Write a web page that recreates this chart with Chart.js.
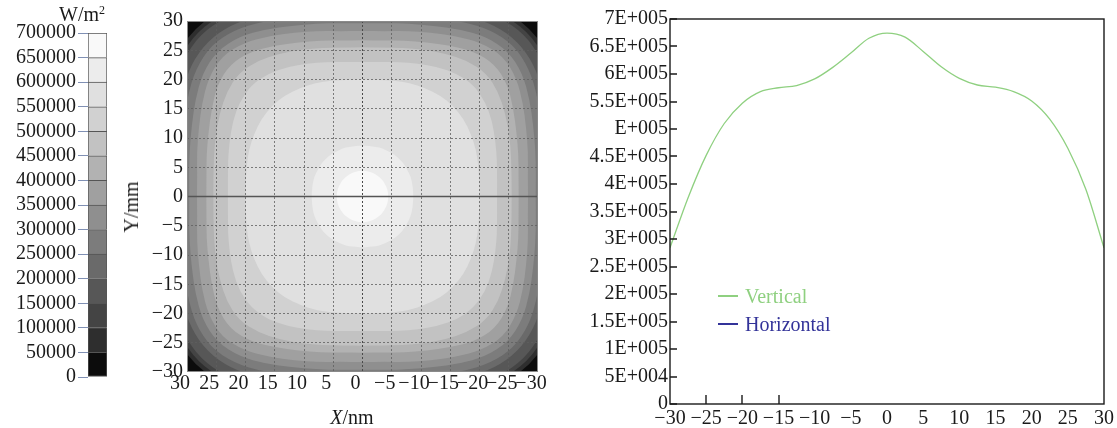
<!DOCTYPE html>
<html><head><meta charset="utf-8">
<script src="https://cdn.jsdelivr.net/npm/chart.js@4.4.1/dist/chart.umd.min.js"></script>
<style>
html,body{margin:0;padding:0;background:#fff;width:1117px;height:428px;overflow:hidden;position:relative;}
canvas{position:absolute;top:0;}
.txt{position:absolute;font-family:'Liberation Serif','Times New Roman',serif;color:#1a1a1a;font-size:20px;white-space:nowrap;line-height:1;transform:translate(-50%,-50%);}
</style></head><body>
<canvas id="cbar" width="112" height="428" style="left:0px"></canvas>
<canvas id="heat" width="448" height="428" style="left:112px"></canvas>
<canvas id="prof" width="557" height="428" style="left:560px"></canvas>
<div class="txt" style="left:82px;top:14px">W/m<span style="font-size:12px;position:relative;top:-7px">2</span></div>
<div class="txt" style="left:352px;top:417px"><i>X</i>/nm</div>
<div class="txt" style="left:131px;top:207px;transform:translate(-50%,-50%) rotate(-90deg)">Y/mm</div>
<div id="legend" style="position:absolute;left:718px;top:0px;font-family:'Liberation Serif','Times New Roman',serif;font-size:20px;"></div>
<script>
// ---------- data ----------
const bandSize = 50000;
const bandColors = ['#0c0c0c','#2e2e2e','#444444','#575757','#6a6a6a','#7c7c7c','#8f8f8f',
                    '#a0a0a0','#b2b2b2','#c2c2c2','#d1d1d1','#e0e0e0','#ececec','#f9f9f9'];
const contourLevels = [50000,100000,150000,200000,250000,300000,350000,400000,450000,500000,550000,600000,650000];
const contourAngles = [0,7.5,15,22.5,30,37.5,45];
const contourRadii = [
  [35.0,35.3,36.1,37.4,38.9,40.1,40.6],
  [34.0,34.3,35.1,36.4,38.0,39.3,39.9],
  [33.0,33.3,34.1,35.5,37.1,38.6,39.2],
  [32.0,32.3,33.1,34.2,35.6,37.0,37.5],
  [30.9,31.2,32.0,33.0,34.5,35.9,36.6],
  [29.6,29.9,30.6,31.6,33.0,34.5,35.2],
  [28.3,28.5,29.3,30.3,31.7,33.2,34.0],
  [26.7,26.9,27.6,28.5,29.8,31.3,32.0],
  [25.5,25.7,26.3,27.2,28.2,29.3,29.9],
  [23.0,23.2,23.8,24.6,25.6,26.5,26.9],
  [20.0,20.1,20.5,21.0,21.4,21.8,21.9],
  [8.7,8.7,8.8,8.9,8.9,9.0,9.0],
  [4.4,4.4,4.4,4.4,4.4,4.4,4.4]
];
const cutLineX = [-30, 30];
const cutLineY = 0;
const profileX = [-30,-27.5,-25,-22.5,-20,-17.5,-15,-12.5,-10,-7.5,-5,-2.5,0,2.5,5,7.5,10,12.5,15,17.5,20,22.5,25,27.5,30];
const verticalProfile = [284000,375000,452000,510000,547000,568000,575000,579000,591000,612000,638000,665000,674500,
                         667000,641000,613000,592000,580000,576000,568000,551000,518000,465000,390000,284000];
const horizontalProfile = [];
const profileYTickLabels = ['0','5E+004','1E+005','1.5E+005','2E+005','2.5E+005','3E+005','3.5E+005',
                            '4E+005','4.5E+005','E+005','5.5E+005','6E+005','6.5E+005','7E+005'];
const xInnerTicks = [-25,-20,-15];

// ---------- common ----------
const FONT = {family:"'Liberation Serif','Times New Roman',serif", size:20};
const TXT = '#1a1a1a';
const fmtMinus = v => v < 0 ? '\u2212' + Math.abs(v) : String(v);

// ---------- colorbar ----------
new Chart(document.getElementById('cbar'), {
  type:'bar',
  data:{labels:[''], datasets: bandColors.map((c,i)=>({
    data:[bandSize], backgroundColor:c, borderColor:'#555',
    borderWidth:{top:1,left:1,right:1,bottom:i===0?1:0}, borderSkipped:false,
    barPercentage:1, categoryPercentage:1
  }))},
  options:{responsive:false, animation:false, devicePixelRatio:1,
    layout:{padding:{left:0,right:5,top:33,bottom:51}},
    plugins:{legend:{display:false}, tooltip:{enabled:false}},
    scales:{
      x:{stacked:true, display:false},
      y:{stacked:true, min:0, max:700000,
         ticks:{stepSize:50000, callback:v => String(v), font:FONT, color:TXT, padding:2, autoSkip:false},
         grid:{drawOnChartArea:false, drawTicks:true, tickLength:10, color:'#8090b4'},
         border:{display:false},
         afterFit(s){ s.width = 88; }}
    }}
});

// ---------- heatmap ----------
const heatPlugin = {
  id:'heatContours',
  beforeDatasetsDraw(chart){
    const {ctx, chartArea:a, scales:{x, y}} = chart;
    ctx.save();
    ctx.beginPath(); ctx.rect(a.left, a.top, a.right-a.left, a.bottom-a.top); ctx.clip();
    ctx.fillStyle = bandColors[0];
    ctx.fillRect(a.left, a.top, a.right-a.left, a.bottom-a.top);
    const step = contourAngles[1];
    const perQuad = Math.round(90/step);
    const n = perQuad*4;
    contourLevels.forEach((lvl, i) => {
      const r = contourRadii[i];
      const pts = [];
      for (let k=0; k<n; k++){
        const q = k % perQuad;
        const idx = q <= perQuad/2 ? q : perQuad - q;
        const rad = k*step*Math.PI/180;
        pts.push([x.getPixelForValue(r[idx]*Math.cos(rad)), y.getPixelForValue(r[idx]*Math.sin(rad))]);
      }
      ctx.beginPath();
      const mid = (p,q) => [(p[0]+q[0])/2, (p[1]+q[1])/2];
      const m0 = mid(pts[n-1], pts[0]);
      ctx.moveTo(m0[0], m0[1]);
      for (let k=0; k<n; k++){
        const p = pts[k], m = mid(p, pts[(k+1)%n]);
        ctx.quadraticCurveTo(p[0], p[1], m[0], m[1]);
      }
      ctx.closePath();
      ctx.fillStyle = bandColors[i+1];
      ctx.fill();
    });
    ctx.restore();
  },
  afterDraw(chart){
    const {ctx, chartArea:a} = chart;
    ctx.save();
    ctx.strokeStyle = '#8a8a8a'; ctx.lineWidth = 1;
    ctx.strokeRect(a.left+0.5, a.top+0.5, a.right-a.left-1, a.bottom-a.top-1);
    ctx.restore();
  }
};
const heatGridColor = axis => ctx => {
  const v = ctx.tick.value;
  if (v === -30 || v === 30) return 'rgba(0,0,0,0)';
  if (v === 0) return axis === 'y' ? 'rgba(0,0,0,0)' : '#4a4a4a';
  return 'rgba(95,95,95,0.8)';
};
new Chart(document.getElementById('heat'), {
  type:'scatter',
  data:{datasets:[{label:'cut', data: cutLineX.map(v => ({x:v, y:cutLineY})), showLine:true,
                   borderColor:'#555', borderWidth:1.6, pointRadius:0}]},
  options:{responsive:false, animation:false, devicePixelRatio:1,
    layout:{padding:{top:21,right:22,bottom:0,left:0}},
    plugins:{legend:{display:false}, tooltip:{enabled:false}},
    scales:{
      x:{type:'linear', reverse:true, min:-30, max:30,
         ticks:{stepSize:5, callback:fmtMinus, font:FONT, color:TXT, padding:0, labelOffset:-7, maxRotation:0, autoSkip:false},
         grid:{z:1, color:heatGridColor('x'), drawTicks:false, lineWidth:1},
         border:{display:false, dash:[2,2]},
         afterFit(s){ s.height = 56; }},
      y:{type:'linear', min:-30, max:30,
         ticks:{stepSize:5, callback:fmtMinus, font:FONT, color:TXT, padding:4, autoSkip:false},
         grid:{z:1, color:heatGridColor('y'), drawTicks:false, lineWidth:1},
         border:{display:false, dash:[2,2]},
         afterFit(s){ s.width = 75; }}
    }},
  plugins:[heatPlugin]
});

// ---------- profile ----------
const framePlugin = {
  id:'frameTicks',
  afterDraw(chart){
    const {ctx, chartArea:a, scales:{x, y}} = chart;
    ctx.save();
    ctx.strokeStyle = '#1a1a1a'; ctx.lineWidth = 1.4;
    ctx.strokeRect(a.left, a.top, a.right-a.left, a.bottom-a.top);
    ctx.beginPath();
    y.ticks.forEach(t => { const py = Math.round(y.getPixelForValue(t.value)); ctx.moveTo(a.left, py); ctx.lineTo(a.left+7, py); });
    xInnerTicks.forEach(v => { const px = Math.round(x.getPixelForValue(v)); ctx.moveTo(px, a.bottom); ctx.lineTo(px, a.bottom-9); });
    ctx.stroke();
    ctx.restore();
  }
};
const profChart = new Chart(document.getElementById('prof'), {
  type:'line',
  data:{datasets:[
    {label:'Vertical', data: profileX.map((v,i)=>({x:v, y:verticalProfile[i]})), borderColor:'#8fd080', backgroundColor:'#8fd080',
     borderWidth:1.3, pointRadius:0, cubicInterpolationMode:'monotone', fill:false},
    {label:'Horizontal', data: horizontalProfile, borderColor:'#333399', backgroundColor:'#333399',
     borderWidth:1.3, pointRadius:0, fill:false}
  ]},
  options:{responsive:false, animation:false, devicePixelRatio:1,
    layout:{padding:{top:19,right:9,bottom:0,left:0}},
    plugins:{legend:{display:false}, tooltip:{enabled:false}},
    scales:{
      x:{type:'linear', min:-30, max:30,
         ticks:{stepSize:5, callback:fmtMinus, font:FONT, color:TXT, padding:3, maxRotation:0, autoSkip:false},
         grid:{display:false, drawTicks:false}, border:{display:false},
         afterFit(s){ s.height = 24; }},
      y:{type:'linear', min:0, max:700000,
         ticks:{stepSize:50000, callback:v => profileYTickLabels[Math.round(v/50000)], font:FONT, color:TXT, padding:2, autoSkip:false},
         grid:{display:false, drawTicks:false}, border:{display:false},
         afterFit(s){ s.width = 110; }}
    }},
  plugins:[framePlugin]
});

// legend built from datasets
const leg = document.getElementById('legend');
profChart.data.datasets.forEach((ds, i) => {
  const row = document.createElement('div');
  row.style.cssText = 'position:absolute;left:0;top:' + (296 + 28*i) + 'px;transform:translateY(-50%);white-space:nowrap;line-height:1;display:flex;align-items:center;';
  const sw = document.createElement('span');
  sw.style.cssText = 'display:inline-block;width:20px;height:1.3px;background:' + ds.borderColor + ';margin-right:7px;';
  const tx = document.createElement('span');
  tx.textContent = ds.label; tx.style.color = ds.borderColor;
  row.appendChild(sw); row.appendChild(tx); leg.appendChild(row);
});
</script>
</body></html>
